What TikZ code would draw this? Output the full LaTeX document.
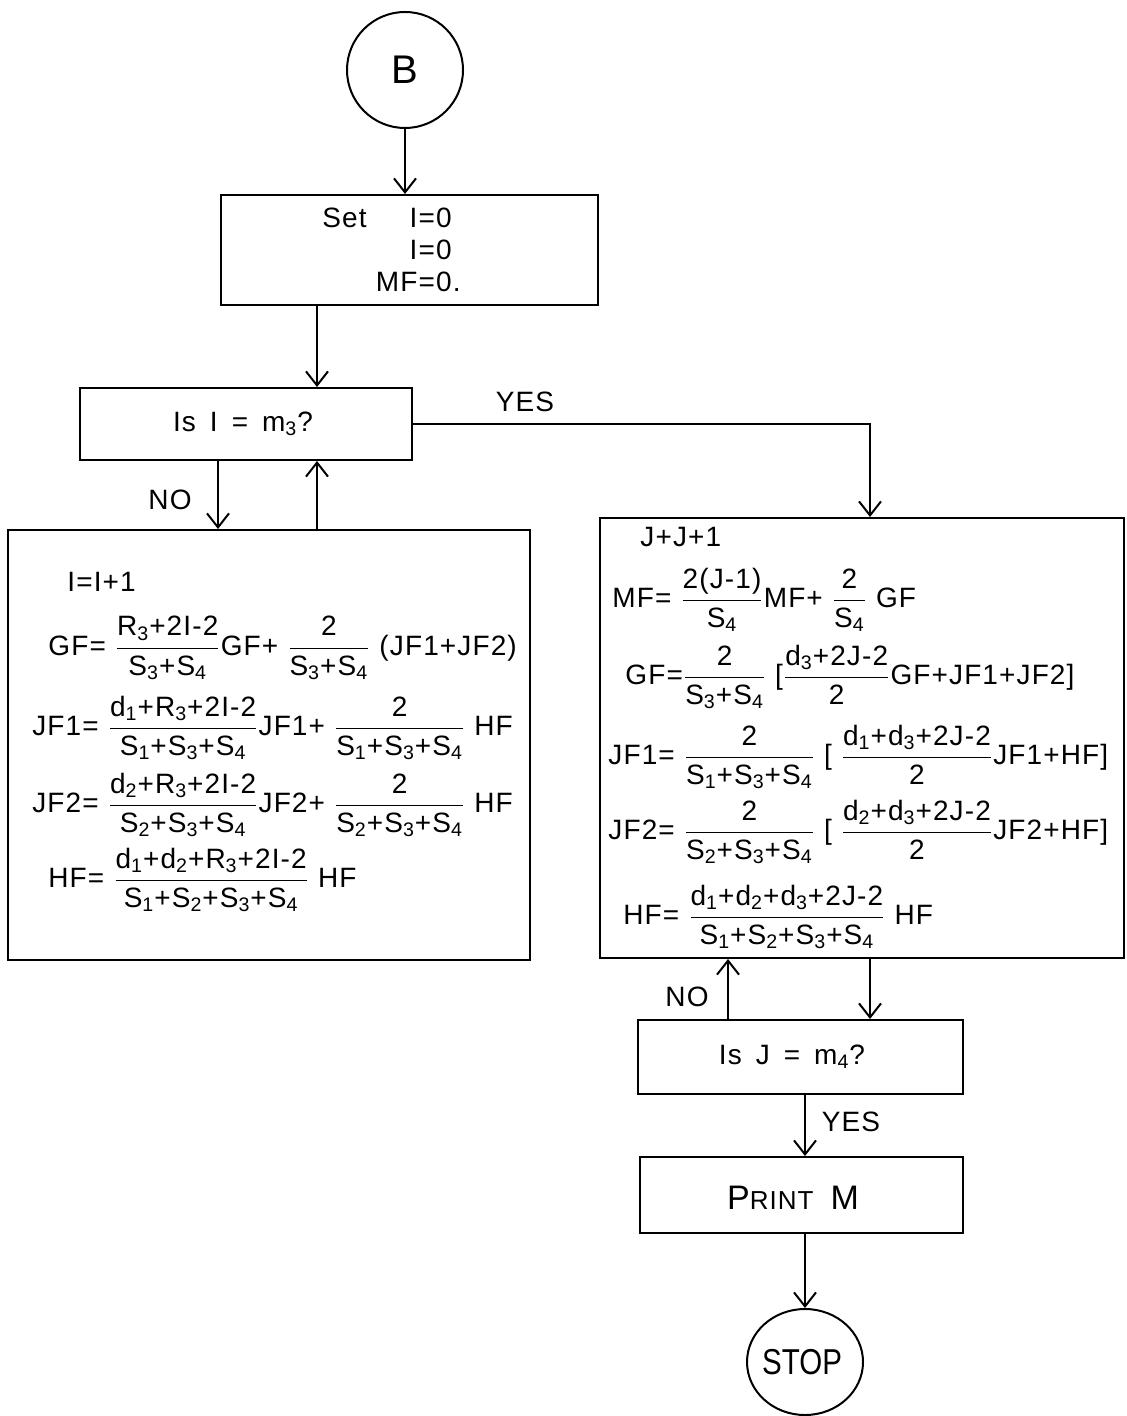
\documentclass[tikz,border=0pt]{standalone}
\usepackage{amsmath}
\usepackage{fontspec}
\setmainfont{Liberation Sans}[LetterSpace=4]
\newfontfamily\narrowfont{Liberation Sans}[FakeStretch=0.82]
\usetikzlibrary{arrows.meta,shapes.geometric}
\newcommand\s[2]{#1\textsubscript{#2}}
\newcommand\fr[2]{$\dfrac{\text{#1}}{\text{#2}}$}
\tikzset{
  box/.style={draw, line width=1pt, inner sep=0pt},
  arr/.style={line width=1pt, -{Straight Barb[length=7pt,width=11pt,line width=1pt]}},
  txt/.style={inner sep=0pt, font=\fontsize{14}{17}\selectfont},
  frm/.style={txt, anchor=west},
}
\begin{document}
\begin{tikzpicture}[x=0.5pt,y=-0.5pt]
\useasboundingbox (0,0) rectangle (1126,1416);
% shapes
\node[box, circle, minimum size=58pt] (B) at (405,70) {};
\node[txt, font=\fontsize{20}{24}\selectfont] (Bt) at (B) {B};
\node[box, minimum width=188.5pt, minimum height=55pt] (set) at (409.5,250) {};
\node[txt, anchor=west] (set1) at (322,218) {Set};
\node[txt, anchor=east] (set2) at (452,218) {I=0};
\node[txt, anchor=east] (set3) at (452,250) {I=0};
\node[txt, anchor=east] (set4) at (461,282) {MF=0.};
\node[box, minimum width=166pt, minimum height=36pt] (isI) at (246,424) {};
\node[txt] (isIt) at (243,424) {Is\enspace I\enspace =\enspace m\textsubscript{3}?};
\node[box, minimum width=261pt, minimum height=215pt] (left) at (269,745) {};
\node[box, minimum width=262pt, minimum height=220pt] (right) at (862,738) {};
\node[box, minimum width=162.5pt, minimum height=37pt] (isJ) at (800.5,1057) {};
\node[txt] (isJt) at (792,1057) {Is\enspace J\enspace =\enspace m\textsubscript{4}?};
\node[box, minimum width=161.5pt, minimum height=38pt] (print) at (801.5,1195) {};
\node[txt, font=\fontsize{17}{20}\selectfont] (printt) at (793,1198) {P{\fontsize{13}{16}\selectfont RINT}\enspace M};
\node[box, ellipse, minimum width=58pt, minimum height=53pt] (stop) at (805,1362) {};
\node[txt, font=\narrowfont\fontsize{18}{21}\selectfont] (stopt) at (802,1362) {STOP};
% left box formulas
\node[frm] (l0) at (67,582) {I=I+1};
\node[frm] (l1) at (48,648) {GF= \fr{\s R3+2I-2}{\s S3+\s S4}GF+ \fr{2}{\s S3+\s S4} (JF1+JF2)};
\node[frm] (l2) at (32,728) {JF1= \fr{\s d1+\s R3+2I-2}{\s S1+\s S3+\s S4}JF1+ \fr{2}{\s S1+\s S3+\s S4} HF};
\node[frm] (l3) at (32,805) {JF2= \fr{\s d2+\s R3+2I-2}{\s S2+\s S3+\s S4}JF2+ \fr{2}{\s S2+\s S3+\s S4} HF};
\node[frm] (l4) at (48,880) {HF= \fr{\s d1+\s d2+\s R3+2I-2}{\s S1+\s S2+\s S3+\s S4} HF};
% right box formulas
\node[frm] (r0) at (640,537) {J+J+1};
\node[frm] (r1) at (612,600) {MF= \fr{2(J-1)}{\s S4}MF+ \fr{2}{\s S4} GF};
\node[frm] (r2) at (625,677) {GF=\fr{2}{\s S3+\s S4} [\fr{\s d3+2J-2}{2}GF+JF1+JF2]};
\node[frm] (r3) at (608,757) {JF1= \fr{2}{\s S1+\s S3+\s S4} [ \fr{\s d1+\s d3+2J-2}{2}JF1+HF]};
\node[frm] (r4) at (608,832) {JF2= \fr{2}{\s S2+\s S3+\s S4} [ \fr{\s d2+\s d3+2J-2}{2}JF2+HF]};
\node[frm] (r5) at (623,917) {HF= \fr{\s d1+\s d2+\s d3+2J-2}{\s S1+\s S2+\s S3+\s S4} HF};
% labels
\node[txt] (yes1) at (525,402) {YES};
\node[txt] (no1) at (170,500) {NO};
\node[txt] (no2) at (687,997) {NO};
\node[txt] (yes2) at (851,1122) {YES};
% helper coordinates
\coordinate (c218) at (218,0);
\coordinate (c317) at (317,0);
\coordinate (c728) at (728,0);
\coordinate (c805) at (805,0);
\coordinate (c870) at (870,0);
% connectors
\draw[arr] (B.south) -- (B.south |- set.north);
\draw[arr] (set.south -| c317) -- (isI.north -| c317);
\draw[arr] (isI.east) -| (right.north -| c870);
\draw[arr] (isI.south -| c218) -- (left.north -| c218);
\draw[arr] (left.north -| c317) -- (isI.south -| c317);
\draw[arr] (right.south -| c870) -- (isJ.north -| c870);
\draw[arr] (isJ.north -| c728) -- (right.south -| c728);
\draw[arr] (isJ.south -| c805) -- (print.north -| c805);
\draw[arr] (print.south -| c805) -- (stop.north);
\end{tikzpicture}
\end{document}
